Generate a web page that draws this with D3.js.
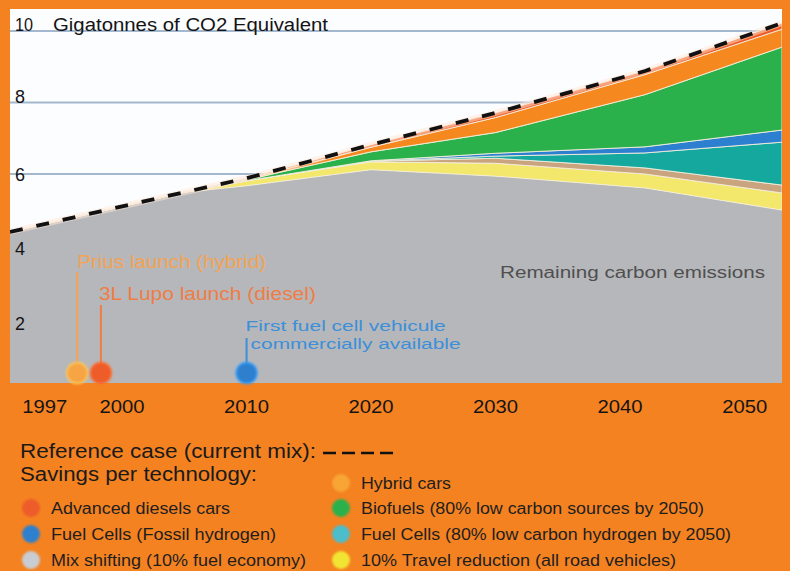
<!DOCTYPE html>
<html>
<head>
<meta charset="utf-8">
<script src="https://cdn.jsdelivr.net/npm/d3@7/dist/d3.min.js"></script>
<style>
  html, body { margin: 0; padding: 0; background: #F48221; }
  svg { display: block; }
  text { font-family: "Liberation Sans", Arial, Helvetica, sans-serif; }
</style>
</head>
<body>
<svg id="chart" width="790" height="571"></svg>
<script>
// ---------- DATA ----------
const years = [1991, 2005, 2010, 2020, 2030, 2042, 2053];
const remaining          = [4.38, 5.49, 5.67, 6.12, 5.94, 5.61, 4.99];
const travelReduction    = [0, 0, 0.14, 0.22, 0.36, 0.39, 0.48];
const mixShifting        = [0, 0, 0, 0.02, 0.14, 0.17, 0.22];
const fuelCellsLowCarbon = [0, 0, 0, 0, 0.06, 0.42, 1.20];
const fuelCellsFossil    = [0, 0, 0, 0.01, 0.08, 0.17, 0.34];
const biofuels           = [0, 0, 0.03, 0.25, 0.58, 1.46, 2.32];
const hybridCars         = [0, 0, 0.02, 0.13, 0.42, 0.56, 0.50];
const advancedDiesels    = [0, 0, 0.02, 0.07, 0.13, 0.11, 0.17];
const referenceCase      = [4.38, 5.49, 5.88, 6.82, 7.71, 8.88, 10.22];

const yTicks = [10, 8, 6, 4, 2];
const xTickYears = [1997, 2000, 2010, 2020, 2030, 2040, 2050];

const milestoneYears  = [1996.4, 1998.3, 2010];
const milestoneLabels = [["Prius launch (hybrid)"], ["3L Lupo launch (diesel)"], ["First fuel cell vehicule", "commercially available"]];

const seriesKeys = ["remaining", "travel", "mix", "fcLow", "fcFossil", "biofuels", "hybrid", "diesel"];
const seriesValues = [remaining, travelReduction, mixShifting, fuelCellsLowCarbon, fuelCellsFossil, biofuels, hybridCars, advancedDiesels];

const legendLeft  = ["Advanced diesels cars", "Fuel Cells (Fossil hydrogen)", "Mix shifting (10% fuel economy)"];
const legendRight = ["Hybrid cars", "Biofuels (80% low carbon sources by 2050)", "Fuel Cells (80% low carbon hydrogen by 2050)", "10% Travel reduction (all road vehicles)"];

// ---------- STYLE ----------
const colors = {
  remaining: "#B6B7BA", travel: "#F3E86C", mix: "#C9A47E", fcLow: "#14A89F",
  fcFossil: "#2D80CF", biofuels: "#2BB14B", hybrid: "#F5891F", diesel: "#EE5B26"
};
const legendLeftColors  = ["#EE5B2A", "#2D80CF", "#C9CDD3"];
const legendRightColors = ["#F7A535", "#2BB14B", "#4CBDCB", "#F2E432"];
const milestoneColors = ["#F4A353", "#EF7D45", "#3C8FD9"];
const markerColors = ["#F7A445", "#EE5B2A", "#2D80CF"];

const svg = d3.select("#chart");
const plot = { left: 10, top: 9, right: 782, bottom: 383 };

const x = d3.scaleLinear().domain([1991, 2053]).range([10, 782]);
const y = d3.scaleLinear().domain([0, 10]).range([388.5, 31]);

svg.append("rect").attr("x", 0).attr("y", 0).attr("width", 790).attr("height", 571).attr("fill", "#F48221");

const defs = svg.append("defs");
defs.append("clipPath").attr("id", "plotclip").append("rect")
  .attr("x", plot.left).attr("y", plot.top).attr("width", plot.right - plot.left).attr("height", plot.bottom - plot.top);
const blur = defs.append("filter").attr("id", "soft").attr("x", "-30%").attr("y", "-30%").attr("width", "160%").attr("height", "160%");
blur.append("feGaussianBlur").attr("stdDeviation", 0.9);

svg.append("rect").attr("x", plot.left).attr("y", plot.top)
  .attr("width", plot.right - plot.left).attr("height", plot.bottom - plot.top).attr("fill", "#FCFDFF");

const g = svg.append("g").attr("clip-path", "url(#plotclip)");

// gridlines
g.selectAll("line.grid").data(yTicks).join("line").attr("class", "grid")
  .attr("x1", plot.left).attr("x2", plot.right)
  .attr("y1", d => y(d)).attr("y2", d => y(d))
  .attr("stroke", "#A3B8CE").attr("stroke-width", 1.8);

// stack
const table = years.map((yr, i) => {
  const row = { year: yr };
  seriesKeys.forEach((k, j) => row[k] = seriesValues[j][i]);
  return row;
});
const stack = d3.stack().keys(seriesKeys)(table);
const area = d3.area().x(d => x(d.data.year)).y0(d => y(d[0])).y1(d => y(d[1])).curve(d3.curveLinear);

g.selectAll("path.layer").data(stack).join("path").attr("class", "layer")
  .attr("d", area)
  .attr("fill", d => colors[d.key])
  .attr("stroke", d => d.key === "remaining" ? "none" : "#F4EEDC")
  .attr("stroke-width", 0.9);

// reference line
const refLine = d3.line().x((d, i) => x(years[i])).y(d => y(d));
g.append("path").attr("d", refLine(referenceCase))
  .attr("fill", "none").attr("stroke", "#FFE8D8").attr("stroke-width", 6).attr("opacity", 0.5);
g.append("path").attr("d", refLine(referenceCase))
  .attr("fill", "none").attr("stroke", "#111").attr("stroke-width", 3.8)
  .attr("stroke-dasharray", "13,14");

// y tick labels
const yLabelDy = { 10: 0, 8: 0, 6: 6.5, 4: 9.5, 2: 13 };
svg.selectAll("text.ytick").data(yTicks).join("text").attr("class", "ytick")
  .attr("x", 15).attr("y", d => y(d) + yLabelDy[d])
  .attr("font-size", 18).attr("fill", "#141414")
  .attr("textLength", d => d === 10 ? 18 : 10).attr("lengthAdjust", "spacingAndGlyphs")
  .text(d => d);

svg.append("text").attr("x", 53).attr("y", y(10))
  .attr("font-size", 18).attr("fill", "#141414")
  .attr("textLength", 275).attr("lengthAdjust", "spacingAndGlyphs")
  .text("Gigatonnes of CO2 Equivalent");

svg.append("text").attr("x", 500).attr("y", 278)
  .attr("font-size", 16).attr("fill", "#4F4F50")
  .attr("textLength", 265).attr("lengthAdjust", "spacingAndGlyphs")
  .text("Remaining carbon emissions");

// milestones
const markerY = 373;
const labelBase = [268, 300, 331];
const labelSize = [18, 18, 15.5];
const labelWidths = [[189], [217], [200, 210]];
const labelX = [[0], [-2], [-1, 4]];
const stemTop = [272, 305, 338];
milestoneYears.forEach((yr, i) => {
  const cx = x(yr);
  svg.append("line").attr("x1", cx).attr("x2", cx).attr("y1", stemTop[i]).attr("y2", markerY)
    .attr("stroke", milestoneColors[i]).attr("stroke-width", 2);
  milestoneLabels[i].forEach((t, j) => {
    svg.append("text").attr("x", cx + labelX[i][j]).attr("y", labelBase[i] + j * 18)
      .attr("font-size", labelSize[i]).attr("fill", milestoneColors[i])
      .attr("textLength", labelWidths[i][j]).attr("lengthAdjust", "spacingAndGlyphs")
      .text(t);
  });
  svg.append("circle").attr("cx", cx).attr("cy", markerY).attr("r", 10.5)
    .attr("fill", markerColors[i]).attr("stroke", d3.color(markerColors[i]).brighter(0.6)).attr("stroke-width", 1.5)
    .attr("filter", "url(#soft)");
});

// x axis labels
svg.selectAll("text.xtick").data(xTickYears).join("text").attr("class", "xtick")
  .attr("x", (d, i) => x(d) + (i === 0 ? -40 : 0)).attr("y", 413)
  .attr("text-anchor", "middle").attr("font-size", 18).attr("fill", "#141414")
  .attr("textLength", 45).attr("lengthAdjust", "spacingAndGlyphs")
  .text(d => d);

// legend
svg.append("text").attr("x", 20).attr("y", 458).attr("font-size", 20).attr("fill", "#1a1a1a")
  .attr("textLength", 296).attr("lengthAdjust", "spacingAndGlyphs")
  .text("Reference case (current mix):");
svg.append("line").attr("x1", 323).attr("x2", 397).attr("y1", 453).attr("y2", 453)
  .attr("stroke", "#111").attr("stroke-width", 2.6).attr("stroke-dasharray", "13,6");
svg.append("text").attr("x", 20).attr("y", 481).attr("font-size", 20).attr("fill", "#1a1a1a")
  .attr("textLength", 237).attr("lengthAdjust", "spacingAndGlyphs")
  .text("Savings per technology:");

const leftWidths = [179, 225, 255];
const rightWidths = [90, 343, 370, 315];
const leftY = [508, 534, 560];
const rightY = [483, 508, 534, 560];
legendLeft.forEach((t, i) => {
  svg.append("circle").attr("cx", 31).attr("cy", leftY[i]).attr("r", 9)
    .attr("fill", legendLeftColors[i]).attr("filter", "url(#soft)");
  svg.append("text").attr("x", 51).attr("y", leftY[i] + 6).attr("font-size", 16).attr("fill", "#1e1e1e")
    .attr("textLength", leftWidths[i]).attr("lengthAdjust", "spacingAndGlyphs").text(t);
});
legendRight.forEach((t, i) => {
  svg.append("circle").attr("cx", 341).attr("cy", rightY[i]).attr("r", 9)
    .attr("fill", legendRightColors[i]).attr("filter", "url(#soft)");
  svg.append("text").attr("x", 361).attr("y", rightY[i] + 6).attr("font-size", 16).attr("fill", "#1e1e1e")
    .attr("textLength", rightWidths[i]).attr("lengthAdjust", "spacingAndGlyphs").text(t);
});
</script>
</body>
</html>
